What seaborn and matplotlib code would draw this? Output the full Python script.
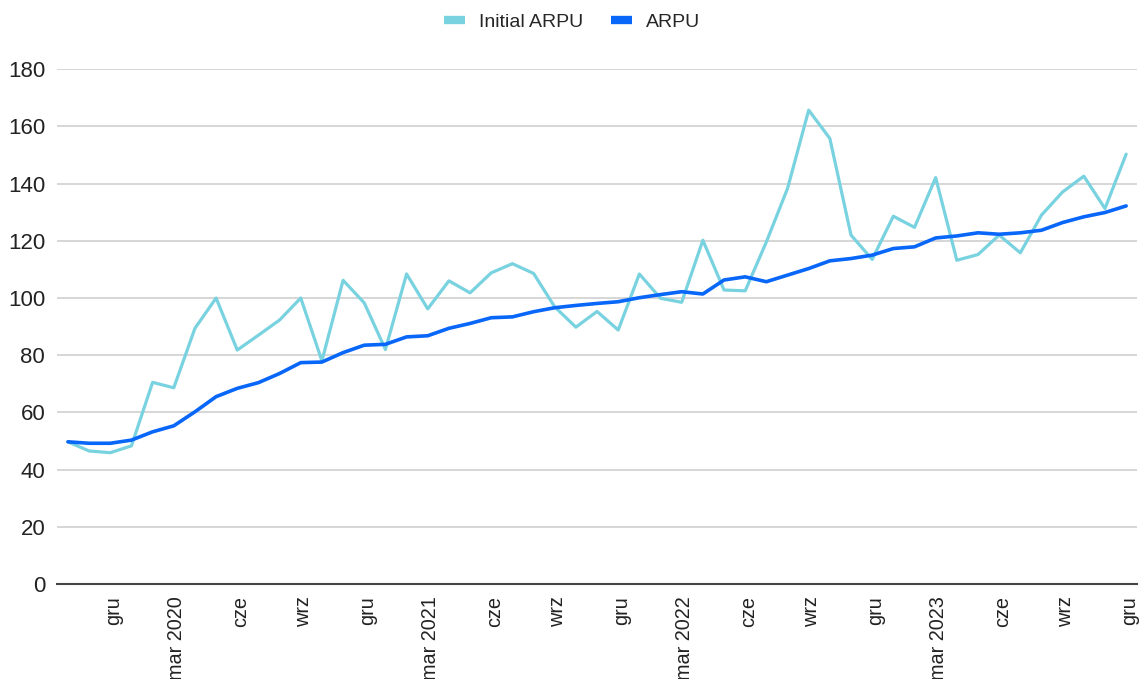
import matplotlib
matplotlib.use("Agg")
import matplotlib.pyplot as plt
from matplotlib.lines import Line2D
import matplotlib.transforms as mtransforms
import seaborn as sns
import pandas as pd
import numpy as np

# Months Oct 2019 .. Dec 2023
months = pd.date_range("2019-10-01", "2023-12-01", freq="MS")

initial_arpu = [
    49.7, 46.5, 45.9, 48.3, 70.5, 68.6, 89.4, 100.0, 81.8, 87.0,
    92.3, 100.0, 78.0, 106.2, 98.3, 82.0, 108.4, 96.2, 106.0, 101.8,
    108.8, 112.0, 108.6, 96.9, 89.8, 95.3, 88.8, 108.4, 99.9, 98.5,
    120.2, 102.8, 102.5, 119.6, 138.3, 165.7, 155.8, 122.0, 113.5, 128.6,
    124.7, 142.1, 113.2, 115.2, 122.0, 115.8, 129.0, 137.1, 142.6, 131.3,
    150.3,
]
arpu = [
    49.7, 49.2, 49.2, 50.3, 53.2, 55.3, 60.2, 65.5, 68.4, 70.4,
    73.6, 77.4, 77.6, 80.9, 83.5, 83.8, 86.4, 86.8, 89.4, 91.1,
    93.1, 93.4, 95.2, 96.6, 97.4, 98.1, 98.7, 100.1, 101.2, 102.2,
    101.4, 106.3, 107.4, 105.7, 108.0, 110.3, 113.0, 113.8, 115.0, 117.3,
    117.9, 121.0, 121.7, 122.8, 122.3, 122.8, 123.7, 126.4, 128.4, 129.9,
    132.2,
]

tick_idx = [2, 5, 8, 11, 14, 17, 20, 23, 26, 29, 32, 35, 38, 41, 44, 47, 50]
tick_labels = ["gru", "mar 2020", "cze", "wrz", "gru", "mar 2021", "cze", "wrz",
               "gru", "mar 2022", "cze", "wrz", "gru", "mar 2023", "cze", "wrz", "gru"]
y_ticks = [0, 20, 40, 60, 80, 100, 120, 140, 160, 180]

series_names = ["Initial ARPU", "ARPU"]
colors = {"Initial ARPU": "#78d2df", "ARPU": "#0866f9"}
widths = {"Initial ARPU": 2.3, "ARPU": 2.6}

df = pd.DataFrame({
    "idx": np.arange(len(months)),
    "Initial ARPU": initial_arpu,
    "ARPU": arpu,
})
long = df.melt(id_vars="idx", var_name="series", value_name="value")

sns.set_theme(style="white")
plt.rcParams["font.family"] = ["Liberation Sans", "DejaVu Sans"]

fig = plt.figure(figsize=(11.39, 6.79), dpi=100)
ax = fig.add_axes([0.050, 0.140, 0.948, 0.758])

for name in series_names:
    sub = long[long["series"] == name]
    sns.lineplot(data=sub, x="idx", y="value", ax=ax, color=colors[name],
                 linewidth=widths[name], legend=False, zorder=3 if name == "ARPU" else 2)

ax.set_xlim(-0.52, 50.5)
ax.set_ylim(0, 180)
ax.set_yticks(y_ticks)
ax.set_yticklabels([str(v) for v in y_ticks], fontsize=16, color="#222222")
ax.set_xticks(tick_idx)
ax.set_xticklabels(tick_labels, rotation=90, fontsize=14.3, color="#222222",
                   va="top", ha="center")
ax.tick_params(axis="both", length=0)
ax.tick_params(axis="y", pad=8.5)
ax.tick_params(axis="x", pad=9)
offset = mtransforms.ScaledTranslation(3 / 100, 0, fig.dpi_scale_trans)
for lbl in ax.get_xticklabels():
    lbl.set_transform(lbl.get_transform() + offset)
ax.set_xlabel("")
ax.set_ylabel("")
ax.grid(axis="y", color="#cccccc", linewidth=1.1)
ax.grid(axis="x", visible=False)
for s in ["top", "right", "left"]:
    ax.spines[s].set_visible(False)
ax.spines["bottom"].set_color("#444444")
ax.spines["bottom"].set_linewidth(1.5)
ax.spines["bottom"].set_zorder(4)

handles = [Line2D([0], [0], color=colors[n], linewidth=6, solid_capstyle="butt")
           for n in series_names]
fig.legend(handles, series_names, loc="center", bbox_to_anchor=(0.502, 0.968),
           ncol=2, frameon=False, fontsize=14, handlelength=1.1,
           handletextpad=0.7, columnspacing=1.45)

fig.savefig("out.png", dpi=100)
